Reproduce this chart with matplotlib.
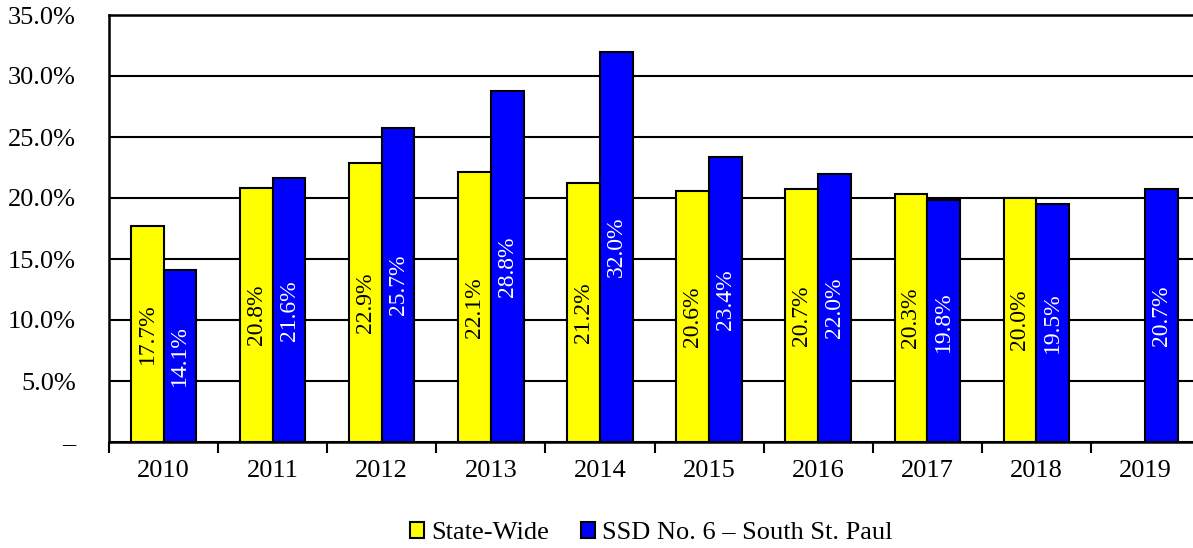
import numpy as np
import matplotlib.pyplot as plt
from matplotlib.ticker import FuncFormatter

plt.rcParams['font.family'] = ['Liberation Serif', 'DejaVu Serif']

annees = ['2010', '2011', '2012', '2013', '2014', '2015', '2016', '2017', '2018', '2019']
etat = [17.7, 20.8, 22.9, 22.1, 21.2, 20.6, 20.7, 20.3, 20.0, np.nan]
ssd6 = [14.1, 21.6, 25.7, 28.8, 32.0, 23.4, 22.0, 19.8, 19.5, 20.7]

JAUNE = '#FFFF00'
BLEU = '#0000FF'
L = 0.3

fig = plt.figure(figsize=(11.93, 5.48), dpi=100)
ax = fig.add_axes([109/1193, 106/548, (1200-109)/1193, 427/548])

x = np.arange(len(annees))
ok = [i for i in range(len(annees)) if not np.isnan(etat[i])]
b1 = ax.bar([x[i] - L/2 for i in ok], [etat[i] for i in ok], L, color=JAUNE, edgecolor='black',
	linewidth=1.5, zorder=3, label='State-Wide')
b2 = ax.bar(x + L/2, ssd6, L, color=BLEU, edgecolor='black', linewidth=1.5, zorder=3,
	label='SSD No. 6 – South St. Paul')

#	etiquettes dans les barres
for i in range(len(annees)):
	if not np.isnan(etat[i]):
		ax.text(x[i] - L/2, etat[i]/2, f'{etat[i]:.1f}%', rotation=90, ha='center', va='center',
			fontsize=17, color='black', zorder=4)
	ax.text(x[i] + L/2, ssd6[i]/2, f'{ssd6[i]:.1f}%', rotation=90, ha='center', va='center',
		fontsize=17, color='white', zorder=4)

ax.set_xlim(-0.5, len(annees) - 0.5)
ax.set_ylim(0, 35)
ax.set_yticks(np.arange(0, 36, 5))
ax.yaxis.set_major_formatter(FuncFormatter(lambda v, p: '–' if v == 0 else f'{v:.1f}%'))
ax.tick_params(axis='y', length=0, pad=24, labelsize=19)
ax.grid(axis='y', color='black', linewidth=1.5, zorder=1)

ax.set_xticks(x)
ax.set_xticklabels(annees)
ax.set_xticks(np.arange(-0.5, len(annees), 1), minor=True)
ax.tick_params(axis='x', which='major', length=0, pad=13, labelsize=19)
ax.tick_params(axis='x', which='minor', length=8, width=1.5, direction='out')

for s in ['left', 'bottom', 'top']:
	ax.spines[s].set_linewidth(1.8)
ax.spines['right'].set_visible(False)

fig.legend(handles=[b1, b2], loc='center', bbox_to_anchor=(651/1193, 1 - 533/548), ncol=2,
	frameon=False, fontsize=19, handlelength=0.55, handleheight=0.55, handletextpad=0.25,
	columnspacing=1.2, borderaxespad=0)

fig.savefig('out.png', dpi=100)
